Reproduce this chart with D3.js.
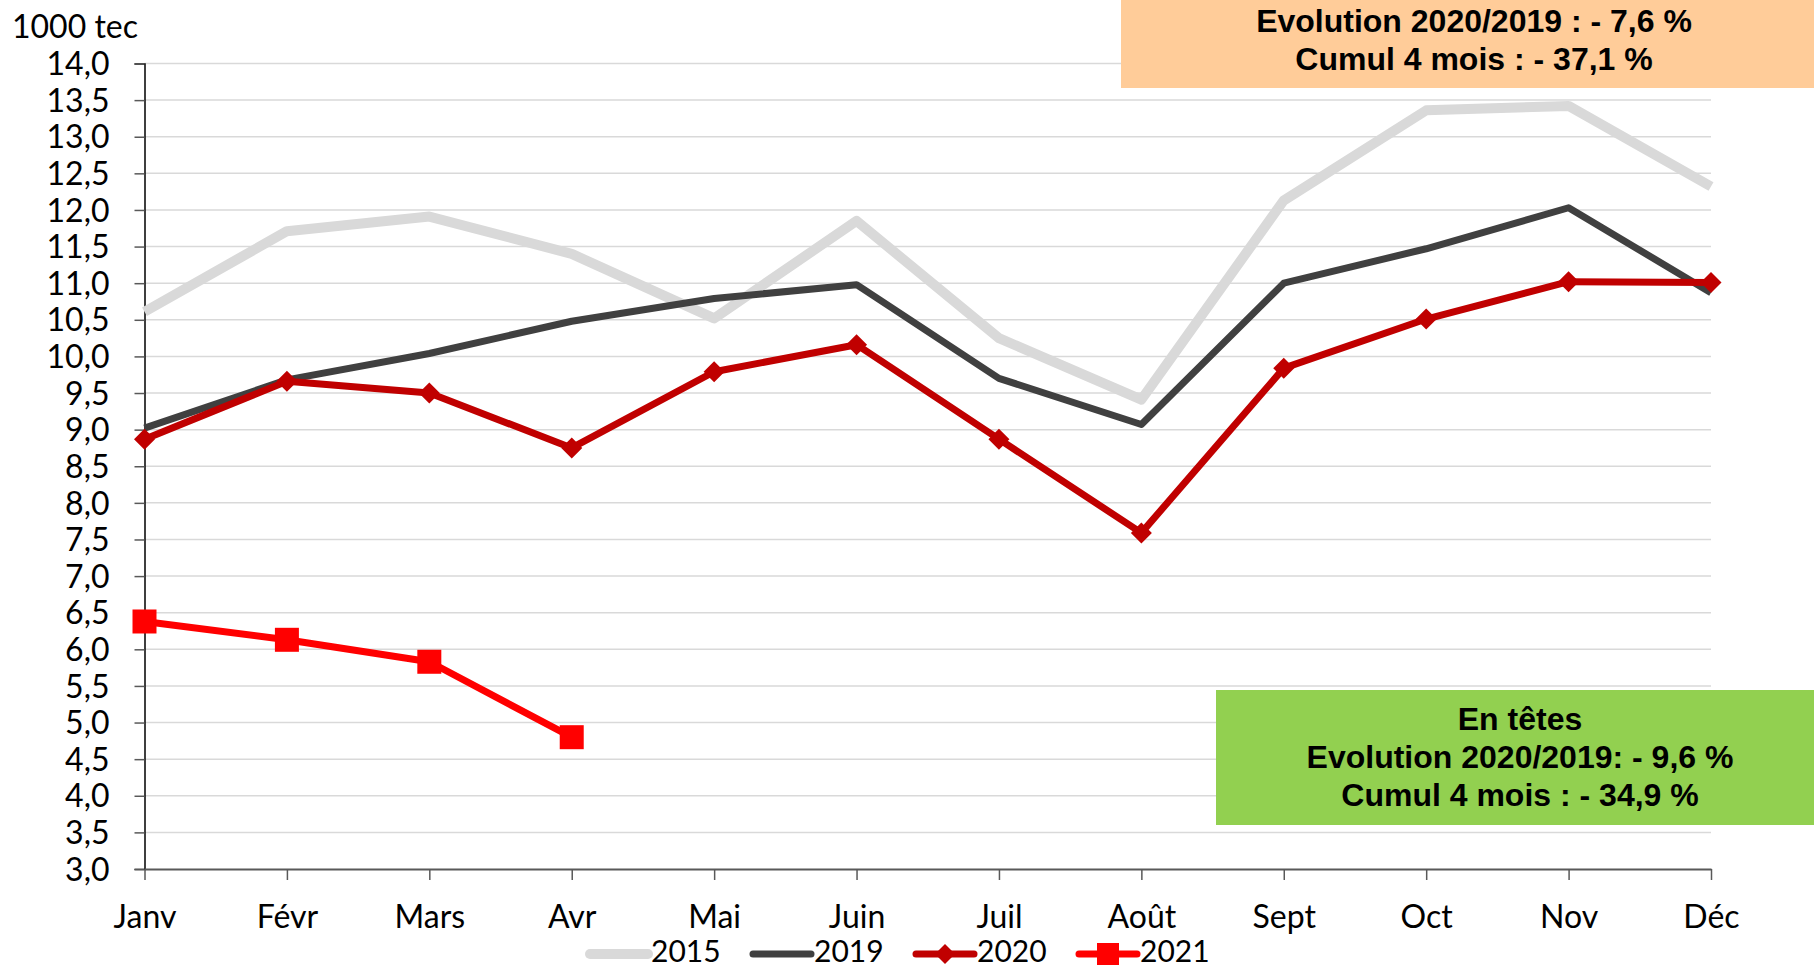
<!DOCTYPE html>
<html>
<head>
<meta charset="utf-8">
<script src="https://cdn.jsdelivr.net/npm/d3@7"></script>
<style>
  html, body { margin: 0; padding: 0; background: #fff; }
  svg { display: block; }
  .tick text { font-family: Lato, "Open Sans", sans-serif; }
  .box-text { font-family: "Liberation Sans", Arial, sans-serif; font-weight: bold; }
</style>
</head>
<body>
<svg id="chart" width="1814" height="969"></svg>
<script>
// Monthly values, 1000 tec.
const months = ["Janv", "Févr", "Mars", "Avr", "Mai", "Juin", "Juil", "Août", "Sept", "Oct", "Nov", "Déc"];
const s2015 = [10.61, 11.71, 11.91, 11.40, 10.52, 11.85, 10.25, 9.41, 12.13, 13.36, 13.42, 12.32];
const s2019 = [9.02, 9.68, 10.04, 10.48, 10.79, 10.98, 9.70, 9.07, 11.00, 11.47, 12.03, 10.87];
const s2020 = [8.87, 9.66, 9.50, 8.75, 9.79, 10.16, 8.87, 7.59, 9.84, 10.51, 11.02, 11.01];
const s2021 = [6.38, 6.13, 5.83, 4.80];
const yTicks = [3, 3.5, 4, 4.5, 5, 5.5, 6, 6.5, 7, 7.5, 8, 8.5, 9, 9.5, 10, 10.5, 11, 11.5, 12, 12.5, 13, 13.5, 14];

const series = [
  { name: "2015", values: s2015, color: "#d9d9d9", width: 10, marker: null },
  { name: "2019", values: s2019, color: "#404040", width: 7, marker: null },
  { name: "2020", values: s2020, color: "#c00000", width: 7, marker: "diamond" },
  { name: "2021", values: s2021, color: "#ff0000", width: 7, marker: "square" },
];

const fr = d3.formatLocale({ decimal: ",", thousands: " ", grouping: [3], currency: ["", " €"] });
const fmt = fr.format(".1f");

const svg = d3.select("#chart");
const plot = { left: 144.5, right: 1711, top: 63.5, bottom: 869 };
const FONT = "Lato, 'Open Sans', sans-serif";

const x = d3.scalePoint().domain(months).range([plot.left, plot.right]).padding(0);
const y = d3.scaleLinear().domain([3, 14]).range([plot.bottom, plot.top]);

// ── gridlines ────────────────────────────────────────────────────────────
svg.append("g")
  .selectAll("line")
  .data(yTicks.filter(t => t > 3))
  .join("line")
  .attr("x1", plot.left).attr("x2", plot.right)
  .attr("y1", d => y(d)).attr("y2", d => y(d))
  .attr("stroke", "#d9d9d9").attr("stroke-width", 1.5);

// ── axes ─────────────────────────────────────────────────────────────────
const yAxis = svg.append("g")
  .attr("transform", `translate(${plot.left},0)`)
  .call(d3.axisLeft(y).tickValues(yTicks).tickFormat(fmt).tickSize(10).tickPadding(25));
yAxis.select(".domain").attr("stroke", "#000").attr("stroke-width", 1.5);
yAxis.selectAll(".tick line").attr("stroke", "#595959").attr("stroke-width", 1.5);
yAxis.selectAll(".tick text").attr("font-size", 32).attr("fill", "#000").attr("dy", "0.35em");

const xAxis = svg.append("g")
  .attr("transform", `translate(0,${plot.bottom})`)
  .call(d3.axisBottom(x).tickSize(11).tickSizeOuter(0).tickPadding(25));
xAxis.select(".domain").attr("stroke", "#595959").attr("stroke-width", 2);
xAxis.selectAll(".tick line").attr("stroke", "#595959").attr("stroke-width", 1.5);
xAxis.selectAll(".tick text").attr("font-size", 32).attr("fill", "#000");

svg.append("text")
  .attr("x", 12).attr("y", 38)
  .attr("font-family", FONT)
  .attr("font-size", 32)
  .text("1000 tec");

// ── series ───────────────────────────────────────────────────────────────
const line = d3.line().x((d, i) => x(months[i])).y(d => y(d));

function markerPath(kind, size) {
  const h = size / 2;
  if (kind === "diamond") return `M0,${-h}L${h},0L0,${h}L${-h},0Z`;
  return `M${-h},${-h}H${h}V${h}H${-h}Z`;
}

for (const s of series) {
  const g = svg.append("g");
  g.append("path")
    .datum(s.values)
    .attr("d", line)
    .attr("fill", "none")
    .attr("stroke", s.color)
    .attr("stroke-width", s.width)
    .attr("stroke-linejoin", "round");
  if (s.marker) {
    g.selectAll("path.m")
      .data(s.values)
      .join("path")
      .attr("class", "m")
      .attr("transform", (d, i) => `translate(${x(months[i])},${y(d)})`)
      .attr("d", markerPath(s.marker, s.marker === "diamond" ? 21 : 24))
      .attr("fill", s.color);
  }
}

// ── legend ───────────────────────────────────────────────────────────────
const legend = svg.append("g").attr("transform", "translate(590,954)");
series.forEach((s, i) => {
  const g = legend.append("g").attr("transform", `translate(${i * 163},0)`);
  g.append("line")
    .attr("x1", 0).attr("x2", 58)
    .attr("stroke", s.color).attr("stroke-width", s.width)
    .attr("stroke-linecap", "round");
  if (s.marker) {
    g.append("path")
      .attr("transform", "translate(29,0)")
      .attr("d", markerPath(s.marker, s.marker === "diamond" ? 20 : 22))
      .attr("fill", s.color);
  }
  g.append("text")
    .attr("x", 61).attr("y", 8)
    .attr("font-family", FONT)
    .attr("font-size", 30)
    .text(s.name);
});

// ── annotation boxes ─────────────────────────────────────────────────────
const boxes = [
  { x: 1121, y: 0, w: 693, h: 88, fill: "#ffcc99", cx: 1474, lines: ["Evolution 2020/2019 : - 7,6 %", "Cumul 4 mois : - 37,1 %"], base: 32 },
  { x: 1216, y: 690, w: 598, h: 135, fill: "#92d050", cx: 1520, lines: ["En têtes", "Evolution 2020/2019: - 9,6 %", "Cumul 4 mois : - 34,9 %"], base: 730 },
];
for (const b of boxes) {
  svg.append("rect").attr("x", b.x).attr("y", b.y).attr("width", b.w).attr("height", b.h).attr("fill", b.fill);
  svg.append("g").selectAll("text")
    .data(b.lines)
    .join("text")
    .attr("class", "box-text")
    .attr("x", b.cx)
    .attr("y", (d, i) => b.base + i * 38)
    .attr("text-anchor", "middle")
    .attr("font-size", 32)
    .text(d => d);
}
</script>
</body>
</html>
